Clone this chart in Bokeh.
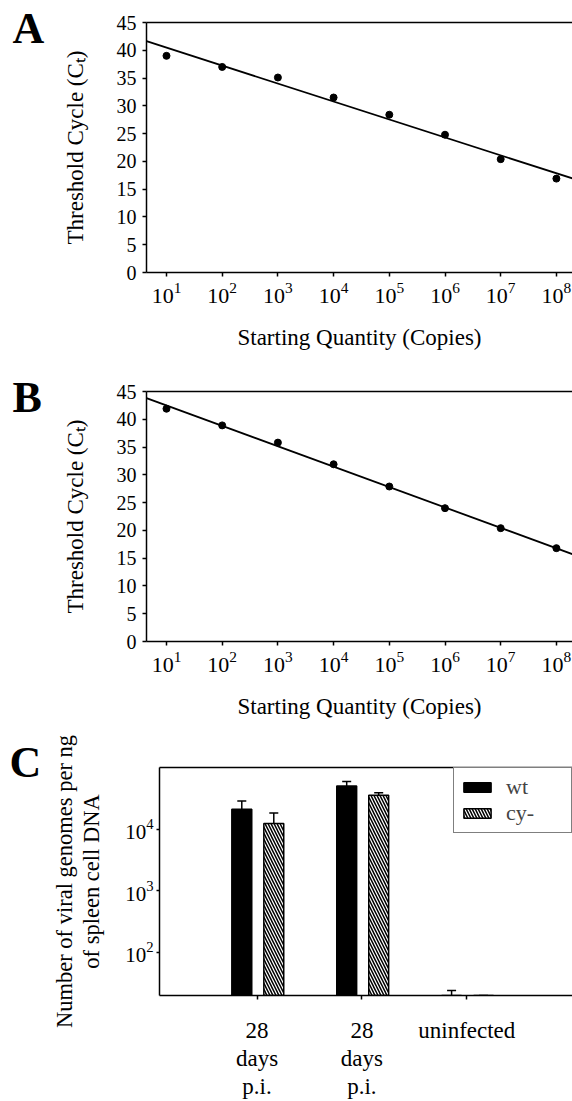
import math
from bokeh.plotting import figure
from bokeh.layouts import column, row
from bokeh.models import (FixedTicker, LogAxis, Range1d, Whisker, TeeHead, Title, Spacer,
                          ColumnDataSource, Legend, LegendItem)
from bokeh.embed import file_html
from bokeh.resources import INLINE

FONT = "Liberation Serif"

# ---------------- data: panels A and B (standard curves) ----------------
copies = [1e1, 1e2, 1e3, 1e4, 1e5, 1e6, 1e7, 1e8]
ct_a = [39.0, 37.0, 35.1, 31.5, 28.4, 24.8, 20.4, 16.9]
ct_b = [41.9, 38.9, 35.8, 31.9, 27.9, 24.0, 20.4, 16.8]
fit_a = {"intercept": 43.7, "slope": -3.23}     # Ct = intercept + slope*log10(copies)
fit_b = {"intercept": 46.15, "slope": -3.67}
ct_ticks = [0, 5, 10, 15, 20, 25, 30, 35, 40, 45]
copies_ticks = [1e1, 1e2, 1e3, 1e4, 1e5, 1e6, 1e7, 1e8]

# ---------------- data: panel C (viral genomes) ----------------
groups = ["28\ndays\np.i.", "28\ndays\np.i.", "uninfected"]
series = ["wt", "cy-"]
wt = [2.1e4, 5.0e4, 20]
wt_upper = [2.85e4, 5.9e4, 24]
cy = [1.24e4, 3.54e4, 20]
cy_upper = [1.83e4, 3.9e4, 20]
genome_ticks = [1e2, 1e3, 1e4]

LETTER_W = 52
LETTER_W_C = 44


def letter_block(letter, top_pad, x_off, width):
    f = figure(width=width, height=66, x_range=Range1d(0, 1), y_range=Range1d(0, 1),
               output_backend="svg", toolbar_location=None,
               x_axis_location=None, y_axis_location=None, min_border=0,
               title=Title(text=letter, text_font=FONT, text_font_size="44px",
                           text_font_style="bold", align="left", offset=x_off,
                           standoff=0, text_color="black"))
    f.outline_line_color = None
    f.grid.visible = False
    f.background_fill_color = "white"
    f.border_fill_color = "white"
    # wrapping in a column keeps the letter box out of the row's frame alignment
    return column(Spacer(width=width, height=top_pad), f, spacing=0)


def style_axis(ax, tick_size, label_size):
    ax.axis_line_width = 1.5
    ax.axis_line_color = "black"
    ax.major_tick_line_color = "black"
    ax.major_tick_line_width = 1.5
    ax.major_tick_in = 0
    ax.major_tick_out = 4
    ax.minor_tick_line_color = None
    ax.major_label_text_font = FONT
    ax.major_label_text_font_size = tick_size
    ax.major_label_text_color = "black"
    ax.axis_label_text_font = FONT
    ax.axis_label_text_font_size = label_size
    ax.axis_label_text_font_style = "normal"
    ax.axis_label_text_color = "black"


def curve_panel(ct, fit, height, top, bottom):
    xr = Range1d(10 ** 0.641, 10 ** 8.289)
    p = figure(width=572 - LETTER_W, height=height, x_axis_type="log", x_range=xr,
               y_range=Range1d(0, 45), output_backend="svg", toolbar_location=None,
               min_border_left=146 - LETTER_W, min_border_right=0,
               min_border_top=top, min_border_bottom=bottom)
    p.outline_line_color = None
    p.grid.visible = False
    p.background_fill_color = "white"
    p.border_fill_color = "white"

    lx = [xr.start, xr.end]
    ly = [fit["intercept"] + fit["slope"] * math.log10(v) for v in lx]
    p.line(lx, ly, line_color="black", line_width=1.8)
    p.scatter(copies, ct, size=7, color="black")

    xa = p.xaxis[0]
    ya = p.yaxis[0]
    xa.ticker = FixedTicker(ticks=copies_ticks)
    ya.ticker = FixedTicker(ticks=ct_ticks)
    style_axis(xa, "22px", "23px")
    style_axis(ya, "20px", "23px")
    xa.major_label_standoff = 6
    ya.major_label_standoff = 6
    xa.axis_label = "Starting Quantity (Copies)"
    ya.axis_label = "Threshold Cycle (C\u209c)"
    xa.axis_label_standoff = 19
    ya.axis_label_standoff = 26

    top_axis = LogAxis(ticker=FixedTicker(ticks=[]), axis_line_width=1.5,
                       axis_line_color="black", major_label_text_font_size="0px",
                       major_tick_line_color=None, minor_tick_line_color=None)
    p.add_layout(top_axis, "above")
    return p


pa = curve_panel(ct_a, fit_a, 358, 22, 86)
pb = curve_panel(ct_b, fit_b, 376, 33, 93)

# ---------------- panel C ----------------
idx = list(range(1, len(groups) + 1))
x_wt = [i - 0.145 for i in idx]
x_cy = [i + 0.16 for i in idx]
y_start = 20

pc = figure(width=572 - LETTER_W_C, height=367, y_axis_type="log",
            x_range=Range1d(0.0705, 4.0076), y_range=Range1d(y_start, 1e5),
            output_backend="svg", toolbar_location=None,
            min_border_left=159 - LETTER_W_C, min_border_right=0,
            min_border_top=33, min_border_bottom=99)
pc.outline_line_color = None
pc.grid.visible = False
pc.background_fill_color = "white"
pc.border_fill_color = "white"

r_wt = pc.vbar(x=x_wt, top=wt, bottom=y_start, width=0.19, fill_color="black",
               line_color="black", line_width=1.5)
r_cy = pc.vbar(x=x_cy, top=cy, bottom=y_start, width=0.19, fill_color="white",
               line_color="black", line_width=1.5, hatch_pattern="\\",
               hatch_color="black", hatch_scale=6, hatch_weight=1.5)

for xs, lo, hi in ((x_wt, wt, wt_upper), (x_cy, cy, cy_upper)):
    src = ColumnDataSource(dict(x=xs, lower=lo, upper=hi))
    pc.add_layout(Whisker(source=src, base="x", lower="lower", upper="upper",
                          dimension="height", line_width=1.5, line_color="black",
                          upper_head=TeeHead(size=9, line_width=1.5, line_color="black"),
                          lower_head=None))

legend = Legend(items=[LegendItem(label=series[0], renderers=[r_wt]),
                       LegendItem(label=series[1], renderers=[r_cy])],
                location="top_right", margin=0, padding=6, spacing=-7,
                glyph_width=34, glyph_height=12, label_standoff=12, label_width=59,
                border_line_color="black", border_line_width=1.5,
                label_text_font=FONT, label_text_font_size="22px",
                background_fill_color="white", background_fill_alpha=1)
pc.add_layout(legend)

xa = pc.xaxis[0]
ya = pc.yaxis[0]
style_axis(xa, "23px", "22.5px")
style_axis(ya, "21px", "22.5px")
xa.ticker = FixedTicker(ticks=idx)
xa.major_label_overrides = {i: g for i, g in zip(idx, groups)}
xa.major_label_standoff = 18
xa.major_label_text_line_height = 1.12
ya.ticker = FixedTicker(ticks=genome_ticks)
ya.major_tick_out = 3
ya.major_label_standoff = 3
ya.axis_label = "of spleen cell DNA"
ya.axis_label_standoff = 18

outer = LogAxis(ticker=FixedTicker(ticks=[]), axis_label="Number of viral genomes per ng",
                axis_line_color=None, major_tick_line_color=None, minor_tick_line_color=None,
                major_label_text_font_size="0px", major_label_standoff=0,
                axis_label_standoff=0, axis_label_text_font=FONT,
                axis_label_text_font_size="22.5px", axis_label_text_font_style="normal",
                axis_label_text_color="black")
pc.add_layout(outer, "left")

top_c = LogAxis(ticker=FixedTicker(ticks=[]), axis_line_width=1.5, axis_line_color="black",
                major_label_text_font_size="0px", major_tick_line_color=None,
                minor_tick_line_color=None)
pc.add_layout(top_c, "above")

la = letter_block("A", 1, 12, LETTER_W)
lb = letter_block("B", 12, 12, LETTER_W)
lc = letter_block("C", 1, 9, LETTER_W_C)

layout = column(row(la, pa), row(lb, pb), row(lc, pc), spacing=0)
open("out.html", "w").write(file_html(layout, INLINE))
